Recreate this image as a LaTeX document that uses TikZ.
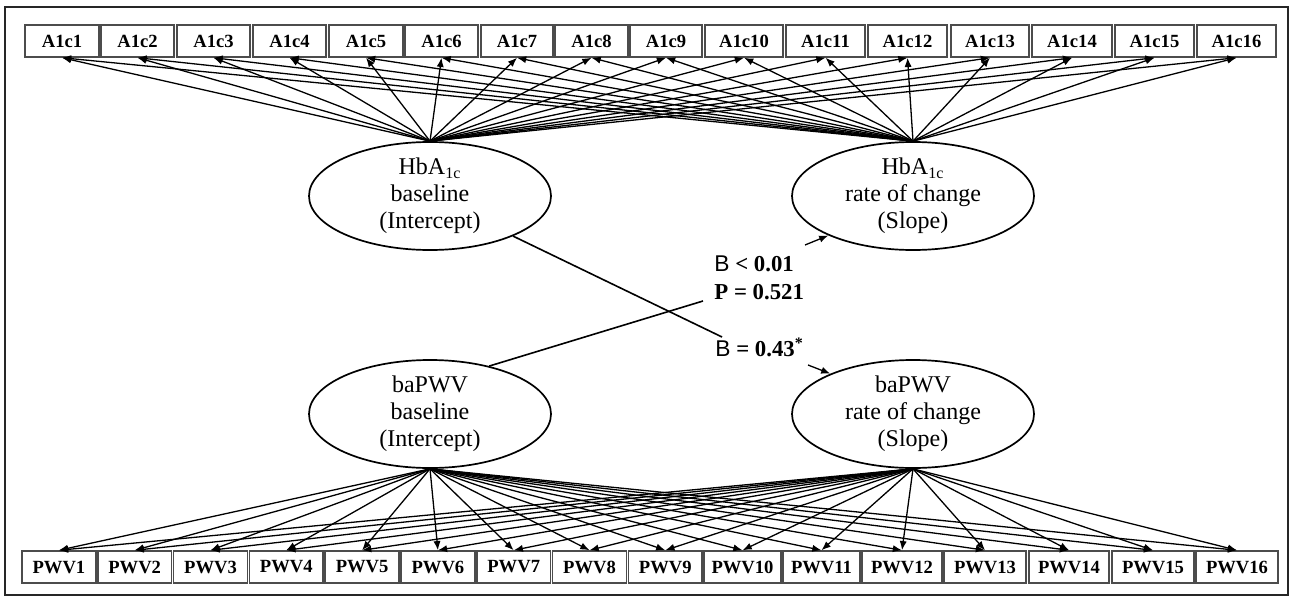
\documentclass[tikz,border=0pt]{standalone}
\usepackage{fontspec}
\setmainfont{Liberation Serif}
\newfontfamily\sansB{Liberation Sans}
\usetikzlibrary{arrows.meta,shapes.geometric}
\begin{document}
\begin{tikzpicture}[x=0.5pt,y=-0.5pt,
  obox/.style={draw=black!70, line width=0.75pt, minimum height=16pt, inner sep=0pt,
    font=\fontsize{9.3}{10}\selectfont\bfseries},
  latent/.style={ellipse, draw, line width=0.85pt, minimum width=121pt, minimum height=54pt,
    inner sep=0pt, align=center, font=\fontsize{12}{13.4}\selectfont},
  arr/.style={-{Latex[length=4.6pt,width=3.6pt]}, line width=0.65pt},
  conn/.style={line width=0.8pt},
  lbl/.style={anchor=west, inner sep=0pt, font=\fontsize{11.4}{13}\selectfont\bfseries},
  frame/.style={draw=black!85, line width=1.1pt}
]
\useasboundingbox (0,0) rectangle (1293,599);
\draw[frame] (5,7) rectangle (1288,595);

% observed boxes
\foreach \i/\xa/\xb in {1/25/99,2/101/174,3/177/250,4/253/326,5/329/403,6/405/478,7/481/553,8/555/628,9/630/702,10/705/783,11/786/865,12/868/947,13/951/1029,14/1032/1112,15/1115/1194,16/1197/1276}
  {\node[obox, minimum width={(\xb-\xa)*0.5pt}] (a\i) at ({(\xa+\xb)/2},41) {A1c\i};}
\foreach \i/\xa/\xb in {1/22/95.8,2/97.8/171.6,3/173.6/247.4,4/249.4/323.2,5/325.2/399,6/401/474.8,7/476.8/550.6,8/552.6/626.4,9/628.4/702.2,10/704/781,11/783/860,12/862/942,13/944/1026,14/1029/1109,15/1112/1194,16/1196/1278}
  {\node[obox, minimum width={(\xb-\xa)*0.5pt}] (p\i) at ({(\xa+\xb)/2},567) {PWV\i};}

% latent variables
\node[latent] (hbi) at (430,196) {HbA\textsubscript{1c}\\baseline\\(Intercept)};
\node[latent] (hbs) at (913,196) {HbA\textsubscript{1c}\\rate of change\\(Slope)};
\node[latent] (pwi) at (430,414) {baPWV\\baseline\\(Intercept)};
\node[latent] (pws) at (913,414) {baPWV\\rate of change\\(Slope)};

% loadings
\foreach \i in {1,...,16}{
  \draw[arr] (hbi.north) -- (a\i.south);
  \draw[arr] (hbs.north) -- (a\i.south);
  \draw[arr] (pwi.south) -- (p\i.north);
  \draw[arr] (pws.south) -- (p\i.north);
}

% cross-lagged paths
\node[lbl] (l1) at (714,264) {{\sansB\mdseries B} < 0.01};
\node[lbl] (l2) at (714,292) {P = 0.521};
\node[lbl] (l3) at (715,347) {{\sansB\mdseries B} = 0.43\textsuperscript{*}};
\coordinate (c1e) at (722,337);
\coordinate (c1s) at (808,365);
\coordinate (c2e) at (703,301);
\coordinate (c2s) at (805,245);
\draw[conn] (hbi) -- (c1e);
\draw[arr] (c1s) -- (pws.154);
\draw[conn] (pwi.39) -- (c2e);
\draw[arr] (c2s) -- (hbs.205);
\end{tikzpicture}
\end{document}
